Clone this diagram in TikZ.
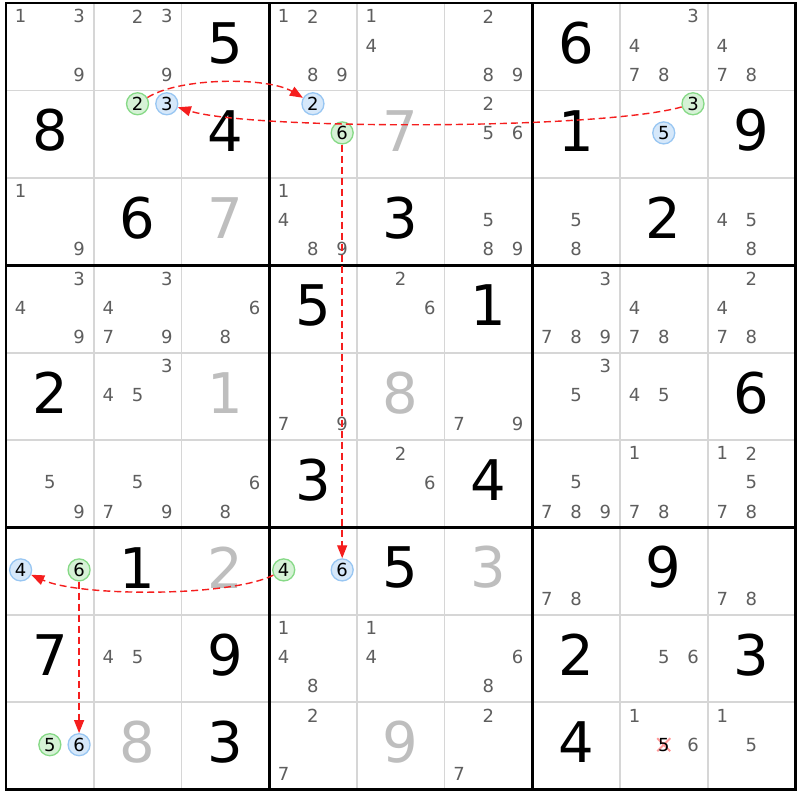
\documentclass[tikz,border=0pt]{standalone}
\usepackage{fontspec}
\setmainfont{DejaVu Sans}
\usetikzlibrary{arrows.meta,shapes.misc}
\definecolor{candgray}{HTML}{5E5E5E}
\definecolor{solvgray}{HTML}{BEBEBE}
\definecolor{thingray}{HTML}{D6D6D6}
\definecolor{gfill}{HTML}{D6F2D6}
\definecolor{gdraw}{HTML}{86D986}
\definecolor{bfill}{HTML}{D6E8FA}
\definecolor{bdraw}{HTML}{98C6F2}
\definecolor{linkred}{HTML}{F51E1E}
\definecolor{xpink}{HTML}{FF9A9A}
\tikzset{
  cand/.style={inner sep=0pt, text=candgray, font=\fontsize{18}{20}\selectfont},
  givendig/.style={inner sep=0pt, text=black, font=\fontsize{56}{60}\selectfont},
  solvdig/.style={inner sep=0pt, text=solvgray, font=\fontsize{56}{60}\selectfont},
  hlgreen/.style={circle, minimum size=22pt, inner sep=0pt, line width=1.3pt, draw=gdraw, fill=gfill, text=black, font=\fontsize{18}{20}\selectfont},
  hlblue/.style={circle, minimum size=22pt, inner sep=0pt, line width=1.3pt, draw=bdraw, fill=bfill, text=black, font=\fontsize{18}{20}\selectfont},
  thinline/.style={draw=thingray, line width=1.8pt},
  thickline/.style={draw=black, line width=2.8pt, line cap=rect},
  linkarrow/.style={draw=linkred, line width=1.4pt, dash pattern=on 7pt off 4pt, -{Triangle[length=13pt,width=10pt]}},
  xmark/.style={cross out, draw=xpink, line width=2pt, minimum size=11pt, inner sep=0pt}
}
% \candnode[style]{col}{row}{digit}
\newcommand\candnode[4][cand]{%
  \pgfmathsetmacro\cx{6+(#2-1)*87.7+(mod(#4-1,3)+0.5)*29.233}%
  \pgfmathsetmacro\cy{3+(#3-1)*87.4+(floor((#4-1)/3)+0.5)*29.133-1.2}%
  \node[#1] (k#3#2#4) at (\cx,\cy) {#4};}
% \cands{row}{col}{list}
\newcommand\cands[3]{\foreach \dd in {#3}{\candnode{#2}{#1}{\dd}}}
% \bigdig{style}{row}{col}{digit}
\newcommand\bigdig[4]{%
  \pgfmathsetmacro\cx{6+(#3-0.5)*87.7}%
  \pgfmathsetmacro\cy{3+(#2-0.5)*87.4-3.5}%
  \node[#1] (d#2#3) at (\cx,\cy) {#4};}
% \hlnode{style}{row}{col}{digit}
\newcommand\hlnode[4]{%
  \pgfmathsetmacro\cx{6+(#3-1)*87.7+(mod(#4-1,3)+0.5)*29.233}%
  \pgfmathsetmacro\cy{3+(#2-1)*87.4+(floor((#4-1)/3)+0.5)*29.133-1.2}%
  \node[#1] (h#2#3#4) at (\cx,\cy) {#4};}
\begin{document}
\begin{tikzpicture}[x=1pt,y=-1pt]
\useasboundingbox (0,0) rectangle (800,800);
\fill[white] (0,0) rectangle (800,800);
% thin grid lines
\foreach \i in {1,2,4,5,7,8}{
  \draw[thinline] ({6+\i*87.7},3) -- ({6+\i*87.7},789.6);
  \draw[thinline] (6,{3+\i*87.4}) -- (795.3,{3+\i*87.4});
}
% thick lines
\foreach \i in {0,3,6,9}{
  \draw[thickline] ({6+\i*87.7},3) -- ({6+\i*87.7},789.6);
  \draw[thickline] (6,{3+\i*87.4}) -- (795.3,{3+\i*87.4});
}
% givens
\bigdig{givendig}{1}{3}{5}\bigdig{givendig}{1}{7}{6}
\bigdig{givendig}{2}{1}{8}\bigdig{givendig}{2}{3}{4}\bigdig{givendig}{2}{7}{1}\bigdig{givendig}{2}{9}{9}
\bigdig{givendig}{3}{2}{6}\bigdig{givendig}{3}{5}{3}\bigdig{givendig}{3}{8}{2}
\bigdig{givendig}{4}{4}{5}\bigdig{givendig}{4}{6}{1}
\bigdig{givendig}{5}{1}{2}\bigdig{givendig}{5}{9}{6}
\bigdig{givendig}{6}{4}{3}\bigdig{givendig}{6}{6}{4}
\bigdig{givendig}{7}{2}{1}\bigdig{givendig}{7}{5}{5}\bigdig{givendig}{7}{8}{9}
\bigdig{givendig}{8}{1}{7}\bigdig{givendig}{8}{3}{9}\bigdig{givendig}{8}{7}{2}\bigdig{givendig}{8}{9}{3}
\bigdig{givendig}{9}{3}{3}\bigdig{givendig}{9}{7}{4}
% solved
\bigdig{solvdig}{2}{5}{7}\bigdig{solvdig}{3}{3}{7}\bigdig{solvdig}{5}{3}{1}\bigdig{solvdig}{5}{5}{8}
\bigdig{solvdig}{7}{3}{2}\bigdig{solvdig}{7}{6}{3}\bigdig{solvdig}{9}{2}{8}\bigdig{solvdig}{9}{5}{9}
% candidates
\cands{1}{1}{1,3,9}\cands{1}{2}{2,3,9}\cands{1}{4}{1,2,8,9}\cands{1}{5}{1,4}\cands{1}{6}{2,8,9}
\cands{1}{8}{3,4,7,8}\cands{1}{9}{4,7,8}
\cands{2}{6}{2,5,6}
\cands{3}{1}{1,9}\cands{3}{4}{1,4,8,9}\cands{3}{6}{5,8,9}\cands{3}{7}{5,8}\cands{3}{9}{4,5,8}
\cands{4}{1}{3,4,9}\cands{4}{2}{3,4,7,9}\cands{4}{3}{6,8}\cands{4}{5}{2,6}\cands{4}{7}{3,7,8,9}
\cands{4}{8}{4,7,8}\cands{4}{9}{2,4,7,8}
\cands{5}{2}{3,4,5}\cands{5}{4}{7,9}\cands{5}{6}{7,9}\cands{5}{7}{3,5}\cands{5}{8}{4,5}
\cands{6}{1}{5,9}\cands{6}{2}{5,7,9}\cands{6}{3}{6,8}\cands{6}{5}{2,6}\cands{6}{7}{5,7,8,9}
\cands{6}{8}{1,7,8}\cands{6}{9}{1,2,5,7,8}
\cands{7}{7}{7,8}\cands{7}{9}{7,8}
\cands{8}{2}{4,5}\cands{8}{4}{1,4,8}\cands{8}{5}{1,4}\cands{8}{6}{6,8}\cands{8}{8}{5,6}
\cands{9}{4}{2,7}\cands{9}{6}{2,7}\cands{9}{8}{1,6}\cands{9}{9}{1,5}
% eliminated candidate
\node[xmark] (x985) at ({6+7*87.7+43.85},{3+8*87.4+43.7-1.2}) {};
\candnode[cand,text=black]{8}{9}{5}
% highlighted candidates
\hlnode{hlgreen}{2}{2}{2}\hlnode{hlblue}{2}{2}{3}
\hlnode{hlblue}{2}{4}{2}\hlnode{hlgreen}{2}{4}{6}
\hlnode{hlgreen}{2}{8}{3}\hlnode{hlblue}{2}{8}{5}
\hlnode{hlblue}{7}{1}{4}\hlnode{hlgreen}{7}{1}{6}
\hlnode{hlgreen}{7}{4}{4}\hlnode{hlblue}{7}{4}{6}
\hlnode{hlgreen}{9}{1}{5}\hlnode{hlblue}{9}{1}{6}
% links
\draw[linkarrow] (h222) .. controls (180,77) and (268,77) .. (h242);
\draw[linkarrow] (h283) .. controls (600,130) and (250,130) .. (h223);
\draw[linkarrow] (h246) -- (h746);
\draw[linkarrow] (h744) .. controls (230,597) and (80,597) .. (h714);
\draw[linkarrow] (h716) -- (h916);
\end{tikzpicture}
\end{document}
